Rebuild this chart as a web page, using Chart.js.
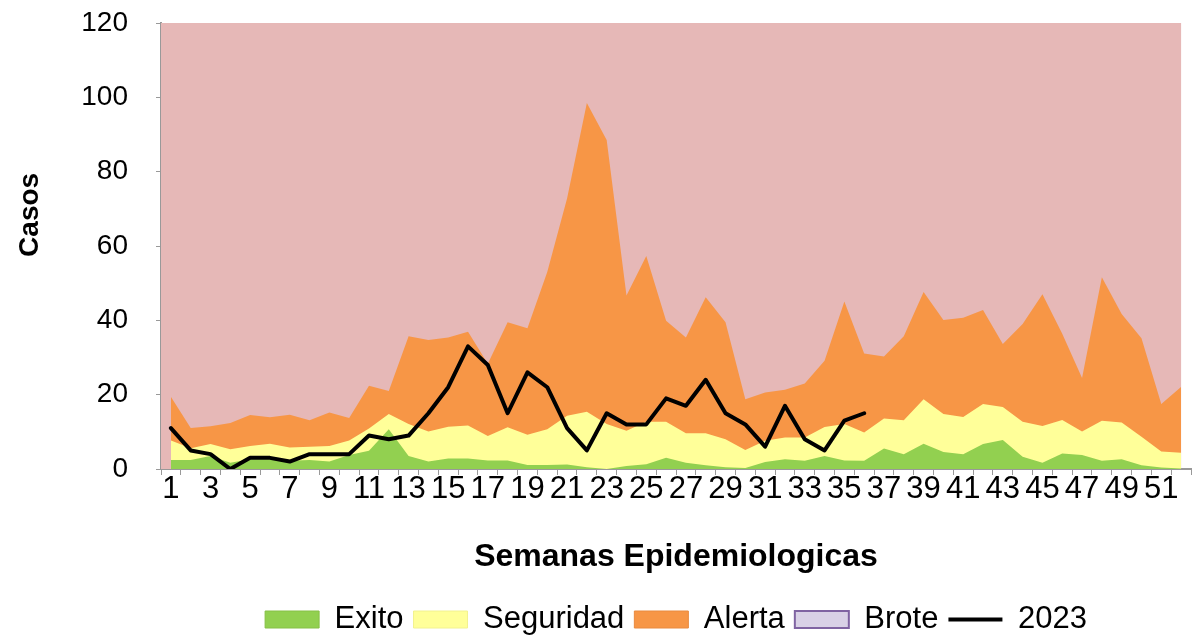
<!DOCTYPE html>
<html>
<head>
<meta charset="utf-8">
<script src="https://cdn.jsdelivr.net/npm/chart.js@4.4.1/dist/chart.umd.min.js"></script>
<style>
  html, body { margin: 0; padding: 0; background: #ffffff; }
  #wrap { width: 1192px; height: 636px; }
</style>
</head>
<body>
<div id="wrap"><canvas id="c" width="1192" height="636"></canvas></div>
<script>
// ---- Data ----
const weeks = ["1","2","3","4","5","6","7","8","9","10","11","12","13","14","15","16","17","18","19","20","21","22","23","24","25","26","27","28","29","30","31","32","33","34","35","36","37","38","39","40","41","42","43","44","45","46","47","48","49","50","51","52"];

// Channel curves (upper limit of each zone)
const exito = [2.4,2.4,3.5,1.7,2.6,2.6,2.2,2.4,2.0,3.8,4.9,10.7,3.5,2.0,2.8,2.8,2.3,2.3,1.1,1.1,1.2,0.5,0.0,0.8,1.3,3.0,1.7,1.0,0.5,0.3,1.9,2.6,2.2,3.5,2.3,2.2,5.5,4.0,6.8,4.6,4.0,6.7,7.8,3.3,1.7,4.2,3.8,2.2,2.6,1.0,0.4,0.1];
const seguridad = [7.7,5.6,6.7,5.3,6.2,6.8,5.8,6.0,6.2,7.7,10.9,14.8,12.1,10.1,11.4,11.7,8.9,11.2,9.2,10.7,14.3,15.4,12.1,10.3,12.7,12.7,9.6,9.6,8.0,5.1,7.6,8.5,8.5,11.3,12.1,9.8,13.6,13.1,18.8,14.8,14.0,17.5,16.7,12.7,11.6,13.2,10.1,13.0,12.5,8.7,4.7,4.4];
const alerta = [19.4,11.0,11.5,12.4,14.5,13.9,14.6,13.1,15.2,13.7,22.4,21.0,35.7,34.7,35.4,36.9,28.3,39.5,37.9,53.0,72.8,98.5,88.5,46.7,57.3,39.9,35.4,46.2,39.5,18.8,20.6,21.3,23.0,29.1,45.1,31.1,30.3,35.7,47.6,40.1,40.7,42.8,33.6,39.0,47.0,36.4,24.5,51.6,41.7,35.2,17.5,22.1];
const brote = [120,120,120,120,120,120,120,120,120,120,120,120,120,120,120,120,120,120,120,120,120,120,120,120,120,120,120,120,120,120,120,120,120,120,120,120,120,120,120,120,120,120,120,120,120,120,120,120,120,120,120,120];
const casos2023 = [11,5,4,0,3,3,2,4,4,4,9,8,9,15,22,33,28,15,26,22,11,5,15,12,12,19,17,24,15,12,6,17,8,5,13,15];

const yTicks = [0,20,40,60,80,100,120];

// ---- Styles ----
const C_EXITO = '#92D050';
const C_SEG = '#FFFF99';
const C_ALERTA = '#F79646';
const C_BROTE = '#E6B8B7';
const FONT = "'Liberation Sans', Arial, sans-serif";

// Paints the Brote zone band from the plot's left edge to the last week
const broteBand = {
  id: 'broteBand',
  beforeDatasetsDraw(chart) {
    const {ctx, chartArea, scales} = chart;
    const xr = scales.x.getPixelForValue(weeks.length - 1);
    ctx.save();
    ctx.fillStyle = C_BROTE;
    ctx.fillRect(chartArea.left, chartArea.top, xr - chartArea.left, chartArea.bottom - chartArea.top);
    ctx.restore();
  }
};

const areaDs = (label, data, color) => ({
  label, data, backgroundColor: color, borderColor: color, borderWidth: 0,
  fill: 'origin', pointRadius: 0, pointHoverRadius: 0, tension: 0
});

new Chart(document.getElementById('c'), {
  type: 'line',
  data: {
    labels: weeks,
    datasets: [
      { label: '2023', data: casos2023, borderColor: '#000000', backgroundColor: '#000000',
        borderWidth: 4, fill: false, pointRadius: 0, tension: 0,
        borderJoinStyle: 'round', borderCapStyle: 'round' },
      areaDs('Exito', exito, C_EXITO),
      areaDs('Seguridad', seguridad, C_SEG),
      areaDs('Alerta', alerta, C_ALERTA),
      areaDs('Brote', brote, C_BROTE)
    ]
  },
  options: {
    responsive: false,
    animation: false,
    events: [],
    layout: { padding: { left: 0, right: 1, top: 23, bottom: -9 } },
    plugins: {
      tooltip: { enabled: false },
      legend: {
        position: 'bottom',
        fullSize: false,
        labels: {
          usePointStyle: true,
          pointStyleWidth: 54,
          boxHeight: 17,
          padding: 10,
          color: '#000000',
          font: { family: FONT, size: 31 },
          generateLabels() {
            return [
              { text: 'Exito', fillStyle: C_EXITO, strokeStyle: '#86C046', lineWidth: 1, pointStyle: 'rect', datasetIndex: 1 },
              { text: 'Seguridad', fillStyle: C_SEG, strokeStyle: '#F2F28F', lineWidth: 1, pointStyle: 'rect', datasetIndex: 2 },
              { text: 'Alerta', fillStyle: C_ALERTA, strokeStyle: '#E98A3F', lineWidth: 1, pointStyle: 'rect', datasetIndex: 3 },
              { text: 'Brote', fillStyle: '#D9D1E6', strokeStyle: '#8064A2', lineWidth: 2, pointStyle: 'rect', datasetIndex: 4 },
              { text: '2023', fillStyle: '#000000', strokeStyle: '#000000', lineWidth: 4, pointStyle: 'line', datasetIndex: 0 }
            ];
          }
        }
      }
    },
    scales: {
      x: {
        type: 'category',
        offset: true,
        grid: { display: true, offset: true, drawOnChartArea: false, drawTicks: true, tickLength: 6, color: '#999999' },
        border: { display: true, color: '#999999', width: 2 },
        ticks: {
          autoSkip: false, maxRotation: 0, minRotation: 0, padding: -4,
          color: '#000000', font: { family: FONT, size: 31 },
          callback: (v, i) => (i % 2 === 0 ? weeks[i] : '')
        },
        title: { display: true, text: 'Semanas Epidemiologicas', color: '#000000',
          font: { family: FONT, size: 32, weight: 'bold' }, padding: { top: 18, bottom: 18 } },
        afterFit(scale) { scale.height = 125; scale.paddingLeft = 0; scale.paddingRight = 0; }
      },
      y: {
        min: 0, max: 120,
        afterBuildTicks(scale) { scale.ticks = yTicks.map(v => ({ value: v })); },
        grid: { display: true, drawOnChartArea: false, drawTicks: true, tickLength: 5, color: '#999999' },
        border: { display: true, color: '#999999', width: 2 },
        ticks: { padding: 28, color: '#000000', font: { family: FONT, size: 28 } },
        title: { display: true, text: '\u00A0\u00A0\u00A0\u00A0\u00A0\u00A0\u00A0\u00A0Casos', color: '#000000',
          font: { family: FONT, size: 28, weight: 'bold' }, padding: { top: 13, bottom: 13 } },
        afterFit(scale) { scale.width = 161; scale.paddingTop = 0; scale.paddingBottom = 0; }
      }
    }
  },
  plugins: [broteBand]
});
</script>
</body>
</html>
